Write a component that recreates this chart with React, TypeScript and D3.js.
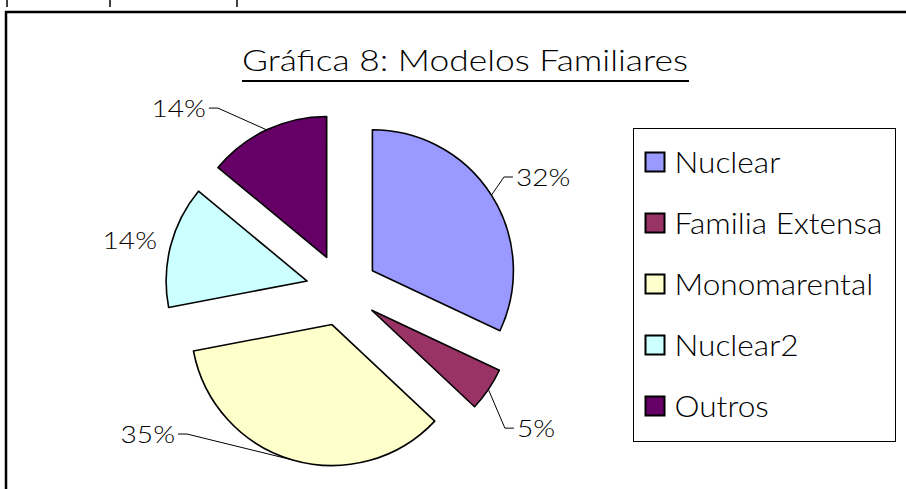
import React, { useEffect, useRef } from 'react';
import * as d3 from 'd3';

// chart data
const categories = ['Nuclear', 'Familia Extensa', 'Monomarental', 'Nuclear2', 'Outros'];
const values = [32, 5, 35, 14, 14];
const percentLabels = ['32%', '5%', '35%', '14%', '14%'];
const colors = ['#9999FF', '#993366', '#FFFFCC', '#CCFFFF', '#660066'];

// label placement (elbow of leader line, polar from pie centre)
const labelAngles = [55.1, 130.3, 227.1, 285.1, 325.7];
const labelRadii = [197.5, 213.6, 211.6, 191.6, 220.2];
const hasLeader = [true, true, true, false, true];

const FONT = "Lato, 'Open Sans', sans-serif";

// the original font (Papyrus) is wider than Lato Light; stretch text horizontally
function widen(sel: d3.Selection<SVGTextElement, any, any, any>, factor: number) {
  sel.each(function () {
    const w = this.getComputedTextLength();
    d3.select(this).attr('textLength', w * factor).attr('lengthAdjust', 'spacingAndGlyphs');
  });
}

export default function App() {
  const ref = useRef<SVGSVGElement>(null);

  useEffect(() => {
    if (!ref.current) return;
    const svg = d3.select(ref.current);
    svg.selectAll('*').remove();

    const width = 906;
    const height = 489;
    const cx = 342;
    const cy = 290;
    const radius = 141;
    const explode = 36;

    svg.append('rect').attr('width', width).attr('height', height).attr('fill', '#fff');

    // little tick marks at the very top
    svg
      .selectAll('.topTick')
      .data([7, 110, 237])
      .enter()
      .append('line')
      .attr('x1', (d) => d)
      .attr('x2', (d) => d)
      .attr('y1', 0)
      .attr('y2', 7)
      .attr('stroke', '#000')
      .attr('stroke-width', 1.5);

    // chart area frame (extends past the window)
    svg
      .append('path')
      .attr('d', `M6,${height + 5} L6,12 L${width + 5},12`)
      .attr('fill', 'none')
      .attr('stroke', '#000')
      .attr('stroke-width', 2.5);

    // title
    svg
      .append('text')
      .attr('x', 242)
      .attr('y', 71)
      .attr('textLength', 446)
      .attr('lengthAdjust', 'spacingAndGlyphs')
      .attr('font-family', FONT)
      .attr('font-weight', 300)
      .attr('font-size', 30)
      .attr('fill', '#000')
      .text('Gráfica 8: Modelos Familiares');
    svg
      .append('line')
      .attr('x1', 242)
      .attr('x2', 689)
      .attr('y1', 81)
      .attr('y2', 81)
      .attr('stroke', '#000')
      .attr('stroke-width', 2);

    // pie
    const pie = d3
      .pie<number>()
      .sort(null)
      .value((d) => d);
    const arcs = pie(values);
    const arc = d3.arc<d3.PieArcDatum<number>>().innerRadius(0).outerRadius(radius);

    const g = svg.append('g').attr('transform', `translate(${cx},${cy})`);

    const mid = (a: d3.PieArcDatum<number>) => (a.startAngle + a.endAngle) / 2;

    g.selectAll('.slice')
      .data(arcs)
      .enter()
      .append('path')
      .attr('class', 'slice')
      .attr('d', arc)
      .attr('transform', (d) => {
        const m = mid(d);
        return `translate(${explode * Math.sin(m)},${-explode * Math.cos(m)})`;
      })
      .attr('fill', (d, i) => colors[i])
      .attr('stroke', '#000')
      .attr('stroke-width', 1.6)
      .attr('stroke-linejoin', 'round');

    // labels + leader lines
    arcs.forEach((d, i) => {
      const m = mid(d);
      const a = (labelAngles[i] * Math.PI) / 180;
      const ex = labelRadii[i] * Math.sin(a);
      const ey = -labelRadii[i] * Math.cos(a);
      const right = Math.sin(a) > 0;
      const dir = right ? 1 : -1;

      if (hasLeader[i]) {
        const sx = (explode + radius) * Math.sin(m);
        const sy = -(explode + radius) * Math.cos(m);
        g.append('polyline')
          .attr('points', `${sx},${sy} ${ex},${ey} ${ex + dir * 9},${ey}`)
          .attr('fill', 'none')
          .attr('stroke', '#000')
          .attr('stroke-width', 1);
      }

      const t = g
        .append('text')
        .attr('x', hasLeader[i] ? ex + dir * 12 : ex)
        .attr('y', ey + 9)
        .attr('text-anchor', right ? 'start' : 'end')
        .attr('font-family', FONT)
        .attr('font-weight', 300)
        .attr('font-size', 23)
        .attr('fill', '#000')
        .text(percentLabels[i]);
      widen(t, 1.22);
    });

    // legend
    const legend = svg.append('g').attr('transform', 'translate(633.5,128.5)');
    legend
      .append('rect')
      .attr('width', 262)
      .attr('height', 313)
      .attr('fill', '#fff')
      .attr('stroke', '#000')
      .attr('stroke-width', 1);

    const rowY = d3.scaleLinear().domain([0, categories.length - 1]).range([44, 288]);
    const items = legend
      .selectAll('.item')
      .data(categories)
      .enter()
      .append('g')
      .attr('transform', (d, i) => `translate(0,${rowY(i)})`);
    items
      .append('rect')
      .attr('x', 12)
      .attr('y', -20)
      .attr('width', 19)
      .attr('height', 19)
      .attr('fill', (d, i) => colors[i])
      .attr('stroke', '#000')
      .attr('stroke-width', 2);
    const legendText = items
      .append('text')
      .attr('x', 41)
      .attr('y', 0)
      .attr('font-family', FONT)
      .attr('font-weight', 300)
      .attr('font-size', 29)
      .attr('fill', '#000')
      .text((d) => d);
    widen(legendText as any, 1.09);
  }, []);

  return (
    <div style={{ position: 'absolute', left: 0, top: 0 }}>
      <svg ref={ref} width={906} height={489} style={{ display: 'block' }} />
    </div>
  );
}
